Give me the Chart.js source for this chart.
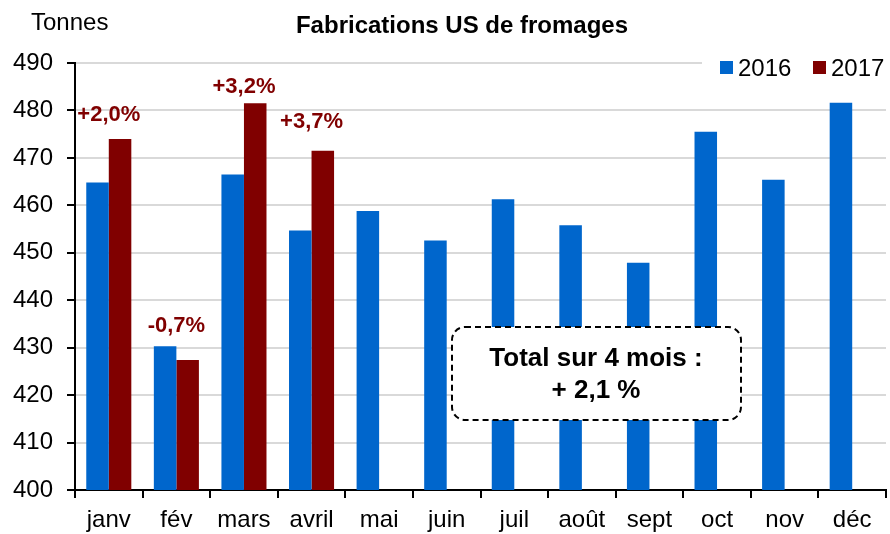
<!DOCTYPE html>
<html>
<head>
<meta charset="utf-8">
<script src="https://cdn.jsdelivr.net/npm/chart.js@4.4.1/dist/chart.umd.min.js"></script>
<style>
  html, body { margin: 0; padding: 0; background: #fff; }
</style>
</head>
<body>
<canvas id="cheese" width="890" height="534"></canvas>
<script>
const months = ['janv', 'fév', 'mars', 'avril', 'mai', 'juin', 'juil', 'août', 'sept', 'oct', 'nov', 'déc'];
const prod2016 = [464.8, 430.3, 466.5, 454.7, 458.8, 452.6, 461.3, 455.8, 447.9, 475.5, 465.4, 481.6];
const prod2017 = [474.0, 427.4, 481.5, 471.5, null, null, null, null, null, null, null, null];
const changeLabels = ['+2,0%', '-0,7%', '+3,2%', '+3,7%'];
const changeLift = [18, 14, 10, 23]; // px entre le haut de la barre et la ligne de base du texte
const yMin = 400, yMax = 490, yStep = 10;
const totalNote = ['Total sur 4 mois :', '+ 2,1 %'];

const FONT = "'Liberation Sans', Arial, sans-serif";
const BLUE = '#0066CC';
const RED = '#800000';

function roundRect(ctx, x, y, w, h, r) {
    ctx.beginPath();
    ctx.moveTo(x + r, y);
    ctx.lineTo(x + w - r, y);
    ctx.arcTo(x + w, y, x + w, y + r, r);
    ctx.lineTo(x + w, y + h - r);
    ctx.arcTo(x + w, y + h, x + w - r, y + h, r);
    ctx.lineTo(x + r, y + h);
    ctx.arcTo(x, y + h, x, y + h - r, r);
    ctx.lineTo(x, y + r);
    ctx.arcTo(x, y, x + r, y, r);
    ctx.closePath();
}

const decor = {
    id: 'decor',
    beforeDatasetsDraw(chart) {
        // la légende masque la grille du haut
        const ctx = chart.ctx;
        ctx.save();
        ctx.fillStyle = '#fff';
        ctx.fillRect(702, 54, 188, 24);
        ctx.restore();
    },
    afterDraw(chart) {
        const ctx = chart.ctx;
        const xs = chart.scales.x, ys = chart.scales.y;
        ctx.save();
        ctx.textBaseline = 'alphabetic';

        // titre + unité
        ctx.fillStyle = '#000';
        ctx.font = 'bold 24px ' + FONT;
        ctx.textAlign = 'center';
        ctx.fillText('Fabrications US de fromages', 462, 33);
        ctx.font = '24px ' + FONT;
        ctx.textAlign = 'left';
        ctx.fillText('Tonnes', 31, 30);

        // légende
        let lx = 720;
        chart.data.datasets.forEach(ds => {
            ctx.fillStyle = ds.backgroundColor;
            ctx.fillRect(lx, 61, 13, 13);
            ctx.fillStyle = '#000';
            ctx.fillText(ds.label, lx + 18, 76);
            lx += 93;
        });

        // variations 2017/2016
        ctx.font = 'bold 22px ' + FONT;
        ctx.fillStyle = RED;
        ctx.textAlign = 'center';
        changeLabels.forEach((txt, i) => {
            const top = Math.max(prod2016[i], prod2017[i]);
            ctx.fillText(txt, xs.getPixelForValue(i), ys.getPixelForValue(top) - changeLift[i]);
        });

        // encadré total
        ctx.fillStyle = '#fff';
        roundRect(ctx, 452, 327, 289, 93, 13);
        ctx.fill();
        ctx.setLineDash([6, 4]);
        ctx.lineWidth = 2;
        ctx.strokeStyle = '#000';
        ctx.stroke();
        ctx.setLineDash([]);
        ctx.fillStyle = '#000';
        ctx.font = 'bold 26px ' + FONT;
        ctx.fillText(totalNote[0], 596, 366);
        ctx.fillText(totalNote[1], 596, 398);
        ctx.restore();
    }
};

new Chart(document.getElementById('cheese'), {
    type: 'bar',
    data: {
        labels: months,
        datasets: [
            { label: '2016', data: prod2016, backgroundColor: BLUE },
            { label: '2017', data: prod2017, backgroundColor: RED }
        ]
    },
    options: {
        responsive: false,
        animation: false,
        layout: { padding: { top: 63, right: 4, bottom: 0, left: 0 } },
        datasets: { bar: { categoryPercentage: 2 / 3, barPercentage: 1 } },
        plugins: {
            legend: { display: false },
            title: { display: false },
            tooltip: { enabled: false }
        },
        scales: {
            x: {
                grid: { drawOnChartArea: false, tickColor: '#000', tickLength: 8, lineWidth: 2, offset: true },
                border: { color: '#000', width: 2 },
                ticks: { color: '#000', font: { family: FONT, size: 24 }, padding: 8, maxRotation: 0, autoSkip: false },
                afterFit(s) { s.height = 44; }
            },
            y: {
                min: yMin,
                max: yMax,
                ticks: { stepSize: yStep, color: '#000', font: { family: FONT, size: 24 }, padding: 14 },
                grid: { color: '#d9d9d9', lineWidth: 2, tickColor: '#000', tickLength: 8 },
                border: { color: '#000', width: 2 },
                afterFit(s) { s.width = 75; }
            }
        }
    },
    plugins: [decor]
});
</script>
</body>
</html>
